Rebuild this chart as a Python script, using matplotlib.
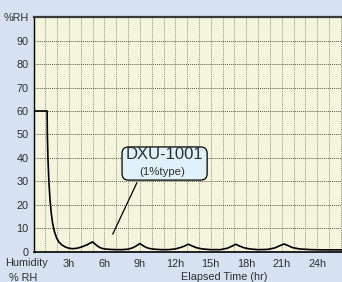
import matplotlib.pyplot as plt
from matplotlib.patches import FancyBboxPatch

plt.rcParams['font.family'] = ['Liberation Sans', 'DejaVu Sans']

# humidity curve
hours = [0, 1.15, 1.17, 1.22, 1.3, 1.4, 1.5, 1.62, 1.78, 1.95, 2.15, 2.4, 2.7, 3.0,
         3.3, 3.7, 4.1, 4.5, 4.8, 5.0, 5.2, 5.45, 5.7, 6.0, 6.5, 7.0, 7.5, 8.0,
         8.4, 8.7, 9.0, 9.2, 9.5, 9.8, 10.2, 10.8, 11.4, 12.0, 12.5, 12.8, 13.1,
         13.4, 13.8, 14.3, 15.0, 15.8, 16.4, 16.8, 17.1, 17.4, 17.8, 18.3, 19.0,
         19.8, 20.4, 20.8, 21.2, 21.5, 21.9, 22.5, 23.5, 24.5, 26.1]
humidity = [60, 60, 50, 40, 30, 22, 16.5, 12, 8.5, 6, 4.2, 3, 2.1, 1.6,
            1.4, 1.6, 2.2, 3.0, 3.8, 4.3, 3.4, 2.4, 1.7, 1.3, 1.1, 1.0, 1.0, 1.2,
            1.8, 2.6, 3.6, 2.9, 2.0, 1.5, 1.2, 1.0, 1.0, 1.3, 2.0, 2.6, 3.3,
            2.6, 1.8, 1.3, 1.0, 1.0, 1.6, 2.5, 3.3, 2.6, 1.8, 1.3, 1.0,
            1.1, 1.7, 2.6, 3.4, 2.8, 1.9, 1.3, 1.0, 0.9, 0.9]

y_ticks = [0, 10, 20, 30, 40, 50, 60, 70, 80, 90, 100]
y_labels = ['0', '10', '20', '30', '40', '50', '60', '70', '80', '90', '%RH']
x_ticks = [3, 6, 9, 12, 15, 18, 21, 24]
x_labels = ['3h', '6h', '9h', '12h', '15h', '18h', '21h', '24h']

txt = '#2e2e2e'

fig = plt.figure(figsize=(3.42, 2.82), dpi=100)
fig.patch.set_facecolor('#d6e2f2')
ax = fig.add_axes([0.098, 0.1064, 0.902, 0.8333])
ax.set_facecolor('#f3f5dc')

# grid
for h in range(1, 27):
    ax.axvline(h, color='#9c9c88', lw=0.7, ls=(0, (1.2, 1)), zorder=1)
for v in range(10, 100, 10):
    ax.axhline(v, color='#5a5a50', lw=0.7, ls=(0, (1, 1)), zorder=1)

ax.plot(hours, humidity, color='black', lw=1.2, zorder=3)

ax.set_xlim(0, 26.1)
ax.set_ylim(0, 100)
ax.set_yticks(y_ticks)
ax.set_yticklabels(y_labels)
ax.set_xticks(x_ticks)
ax.set_xticklabels(x_labels)
ax.tick_params(axis='both', length=0, labelsize=7.8, labelcolor=txt)
ax.tick_params(axis='y', pad=3.5)
ax.tick_params(axis='x', pad=5)

ax.spines['right'].set_visible(False)
ax.spines['top'].set_color('#3a3a3a')
ax.spines['top'].set_linewidth(1.6)
ax.spines['left'].set_color('black')
ax.spines['left'].set_linewidth(1.0)
ax.spines['bottom'].set_color('black')
ax.spines['bottom'].set_linewidth(1.2)

# callout
box = FancyBboxPatch((7.49, 30.6), 7.2, 14.1,
                     boxstyle='round,pad=0,rounding_size=0.55',
                     mutation_aspect=5.0, fc='#e0f1fb', ec='black', lw=0.9, zorder=4)
ax.add_patch(box)
ax.text(11.09, 41.3, 'DXU-1001', ha='center', va='center', fontsize=12,
        color=txt, zorder=5)
ax.text(10.9, 34.2, '(1%type)', ha='center', va='center', fontsize=8.2,
        color=txt, zorder=5)
ax.annotate('', xy=(6.6, 6.5), xytext=(8.85, 30.6),
            arrowprops=dict(arrowstyle='-', color='black', lw=0.9), zorder=4)

fig.text(27 / 342, 1 - 263 / 282, 'Humidity', ha='center', va='center',
         fontsize=7.8, color=txt)
fig.text(23 / 342, 1 - 278 / 282, '% RH', ha='center', va='center',
         fontsize=7.8, color=txt)
fig.text(224 / 342, 1 - 277 / 282, 'Elapsed Time (hr)', ha='center', va='center',
         fontsize=7.8, color=txt)

fig.savefig('out.png', dpi=100, facecolor=fig.get_facecolor())
